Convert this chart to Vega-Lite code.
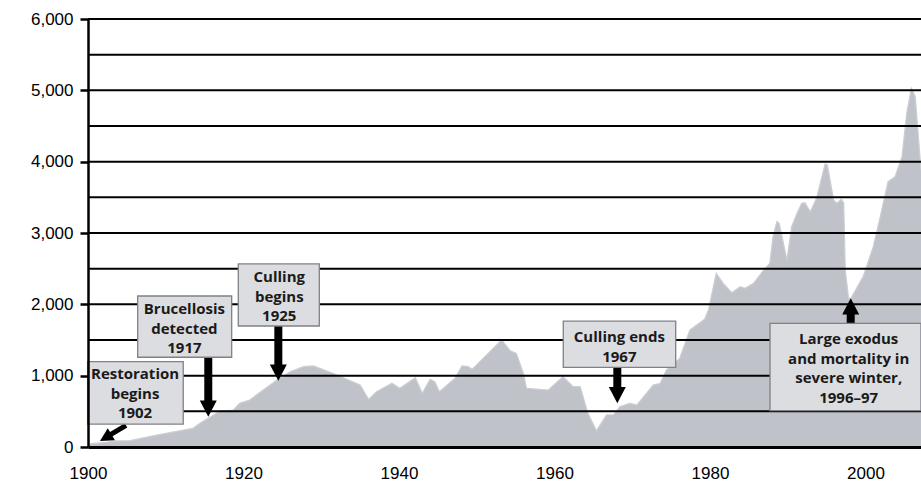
{
  "$schema": "https://vega.github.io/schema/vega-lite/v6.json",
  "width": 833,
  "height": 428,
  "autosize": {"type": "none"},
  "padding": {"left": 88, "top": 19, "right": 0, "bottom": 36},
  "background": "white",
  "config": {"view": {"stroke": null}},
  "datasets": {
    "pop": [
      {"year": 1900.0, "bison": 45}, {"year": 1902.0, "bison": 60}, {"year": 1903.5, "bison": 85},
      {"year": 1905.4, "bison": 89}, {"year": 1909.0, "bison": 170}, {"year": 1913.5, "bison": 262},
      {"year": 1914.4, "bison": 332}, {"year": 1917.0, "bison": 505}, {"year": 1918.7, "bison": 519},
      {"year": 1919.5, "bison": 612}, {"year": 1920.8, "bison": 659}, {"year": 1924.3, "bison": 939},
      {"year": 1926.0, "bison": 1056}, {"year": 1927.7, "bison": 1126}, {"year": 1929.0, "bison": 1136},
      {"year": 1929.8, "bison": 1103}, {"year": 1931.5, "bison": 1033}, {"year": 1935.0, "bison": 869},
      {"year": 1936.1, "bison": 668}, {"year": 1937.1, "bison": 776}, {"year": 1939.1, "bison": 893},
      {"year": 1940.1, "bison": 823}, {"year": 1942.1, "bison": 972}, {"year": 1943.0, "bison": 753},
      {"year": 1944.0, "bison": 949}, {"year": 1944.6, "bison": 916}, {"year": 1945.2, "bison": 776},
      {"year": 1947.2, "bison": 963}, {"year": 1948.1, "bison": 1136}, {"year": 1948.9, "bison": 1126},
      {"year": 1949.4, "bison": 1089}, {"year": 1953.2, "bison": 1500}, {"year": 1954.3, "bison": 1350},
      {"year": 1955.1, "bison": 1313}, {"year": 1956.0, "bison": 1033}, {"year": 1956.4, "bison": 823},
      {"year": 1959.2, "bison": 799}, {"year": 1961.1, "bison": 986}, {"year": 1962.4, "bison": 845},
      {"year": 1963.3, "bison": 845}, {"year": 1964.3, "bison": 472}, {"year": 1965.4, "bison": 229},
      {"year": 1966.7, "bison": 449}, {"year": 1967.6, "bison": 449}, {"year": 1968.4, "bison": 565},
      {"year": 1969.7, "bison": 612}, {"year": 1970.6, "bison": 589}, {"year": 1972.7, "bison": 869},
      {"year": 1973.6, "bison": 893}, {"year": 1974.4, "bison": 1080}, {"year": 1976.1, "bison": 1243},
      {"year": 1977.4, "bison": 1640}, {"year": 1979.3, "bison": 1790}, {"year": 1979.8, "bison": 1920},
      {"year": 1980.8, "bison": 2435}, {"year": 1981.7, "bison": 2295}, {"year": 1982.8, "bison": 2163},
      {"year": 1983.9, "bison": 2247}, {"year": 1984.5, "bison": 2224}, {"year": 1985.6, "bison": 2295},
      {"year": 1986.9, "bison": 2481}, {"year": 1987.7, "bison": 2575}, {"year": 1988.1, "bison": 2949},
      {"year": 1988.6, "bison": 3160}, {"year": 1988.9, "bison": 3136}, {"year": 1989.9, "bison": 2622},
      {"year": 1990.5, "bison": 3089}, {"year": 1991.2, "bison": 3276}, {"year": 1991.8, "bison": 3416},
      {"year": 1992.2, "bison": 3425}, {"year": 1992.9, "bison": 3299}, {"year": 1993.7, "bison": 3486},
      {"year": 1994.8, "bison": 3967}, {"year": 1995.1, "bison": 3953}, {"year": 1995.9, "bison": 3463},
      {"year": 1996.3, "bison": 3416}, {"year": 1996.9, "bison": 3472}, {"year": 1997.2, "bison": 3420},
      {"year": 1997.4, "bison": 2481}, {"year": 1997.8, "bison": 2107}, {"year": 1998.0, "bison": 2061},
      {"year": 1999.7, "bison": 2388}, {"year": 2001.0, "bison": 2808}, {"year": 2001.9, "bison": 3229},
      {"year": 2002.9, "bison": 3720}, {"year": 2003.8, "bison": 3790}, {"year": 2004.7, "bison": 4070},
      {"year": 2005.3, "bison": 4678}, {"year": 2005.9, "bison": 5029}, {"year": 2006.4, "bison": 4911},
      {"year": 2007.14, "bison": 3883}
    ],
    "grid": [
      {"v": 500}, {"v": 1000}, {"v": 1500}, {"v": 2000}, {"v": 2500}, {"v": 3000},
      {"v": 3500}, {"v": 4000}, {"v": 4500}, {"v": 5000}, {"v": 5500}, {"v": 6000}
    ],
    "boxes": [
      {"x1": 1899.95, "x2": 1912.25, "y1": 322, "y2": 1196, "tx": 1906.05, "ty": 1023, "label": "Restoration\nbegins\n1902"},
      {"x1": 1906.39, "x2": 1918.48, "y1": 1258, "y2": 2117, "tx": 1912.4, "ty": 1930, "label": "Brucellosis\ndetected\n1917"},
      {"x1": 1919.33, "x2": 1929.75, "y1": 1696, "y2": 2566, "tx": 1924.6, "ty": 2379, "label": "Culling\nbegins\n1925"},
      {"x1": 1961.13, "x2": 1975.59, "y1": 1117, "y2": 1766, "tx": 1968.34, "ty": 1538, "label": "Culling ends\n1967"},
      {"x1": 1987.72, "x2": 2007.14, "y1": 509, "y2": 1734, "tx": 1997.84, "ty": 1510, "label": "Large exodus\nand mortality in\nsevere winter,\n1996–97"}
    ],
    "arrows": [
      {"kind": "down", "xs": 1915.47, "ys": 1300, "xe": 1915.47, "ye": 617, "xt": 1915.47, "yt": 425},
      {"kind": "down", "xs": 1924.48, "ys": 1750, "xe": 1924.48, "ye": 1122, "xt": 1924.48, "yt": 929},
      {"kind": "down", "xs": 1968.08, "ys": 1150, "xe": 1968.08, "ye": 806, "xt": 1968.08, "yt": 613},
      {"kind": "up", "xs": 1998.1, "ys": 1700, "xe": 1998.1, "ye": 1893, "xt": 1998.1, "yt": 2085},
      {"kind": "diag", "xs": 1904.89, "ys": 303, "xe": 1902.89, "ye": 172, "xt": 1901.54, "yt": 84}
    ]
  },
  "layer": [
    {
      "data": {"name": "pop"},
      "mark": {"type": "area", "color": "#a5a8b2", "line": {"color": "#cbced3", "strokeWidth": 1.2}},
      "encoding": {
        "x": {"field": "year", "type": "quantitative",
          "scale": {"domain": [1900, 2007.14], "nice": false, "zero": false},
          "axis": {"title": null, "values": [1900, 1920, 1940, 1960, 1980, 2000],
            "labelExpr": "format(datum.value, 'd')",
            "ticks": false, "grid": false, "domainColor": "black", "domainWidth": 3,
            "labelFont": "Liberation Sans", "labelFontSize": 17, "labelColor": "black",
            "labelPadding": 18, "zindex": 1, "labelFlush": false}},
        "y": {"field": "bison", "type": "quantitative",
          "scale": {"domain": [0, 6000], "nice": false},
          "axis": {"title": null, "values": [0, 1000, 2000, 3000, 4000, 5000, 6000],
            "labelExpr": "format(datum.value, ',')",
            "grid": false, "domainColor": "black", "domainWidth": 2.5, "tickColor": "black",
            "tickSize": 8, "tickWidth": 2.5, "labelFont": "Liberation Sans", "labelFontSize": 17,
            "labelColor": "black", "labelPadding": 7, "zindex": 1}}
      }
    },
    {
      "data": {"name": "grid"},
      "mark": {"type": "rule", "color": "black", "strokeWidth": 2},
      "encoding": {
        "y": {"field": "v", "type": "quantitative", "scale": {"domain": [0, 6000], "nice": false}}
      }
    },
    {
      "data": {"name": "arrows"},
      "transform": [{"filter": "datum.kind !== 'diag'"}],
      "mark": {"type": "rule", "color": "black", "strokeWidth": 8},
      "encoding": {
        "x": {"field": "xs", "type": "quantitative", "scale": {"domain": [1900, 2007.14], "nice": false, "zero": false}},
        "x2": {"field": "xe"},
        "y": {"field": "ys", "type": "quantitative", "scale": {"domain": [0, 6000], "nice": false}},
        "y2": {"field": "ye"}
      }
    },
    {
      "data": {"name": "arrows"},
      "transform": [{"filter": "datum.kind === 'diag'"}],
      "mark": {"type": "rule", "color": "black", "strokeWidth": 5},
      "encoding": {
        "x": {"field": "xs", "type": "quantitative", "scale": {"domain": [1900, 2007.14], "nice": false, "zero": false}},
        "x2": {"field": "xe"},
        "y": {"field": "ys", "type": "quantitative", "scale": {"domain": [0, 6000], "nice": false}},
        "y2": {"field": "ye"}
      }
    },
    {
      "data": {"name": "arrows"},
      "transform": [{"filter": "datum.kind === 'down'"}],
      "mark": {"type": "point", "shape": "M-1,-1.9L1,-1.9L0,0Z", "size": 289, "filled": true, "color": "black", "opacity": 1, "strokeWidth": 0},
      "encoding": {
        "x": {"field": "xt", "type": "quantitative", "scale": {"domain": [1900, 2007.14], "nice": false, "zero": false}},
        "y": {"field": "yt", "type": "quantitative", "scale": {"domain": [0, 6000], "nice": false}}
      }
    },
    {
      "data": {"name": "arrows"},
      "transform": [{"filter": "datum.kind === 'up'"}],
      "mark": {"type": "point", "shape": "M-1,-1.9L1,-1.9L0,0Z", "size": 289, "angle": 180, "filled": true, "color": "black", "opacity": 1, "strokeWidth": 0},
      "encoding": {
        "x": {"field": "xt", "type": "quantitative", "scale": {"domain": [1900, 2007.14], "nice": false, "zero": false}},
        "y": {"field": "yt", "type": "quantitative", "scale": {"domain": [0, 6000], "nice": false}}
      }
    },
    {
      "data": {"name": "arrows"},
      "transform": [{"filter": "datum.kind === 'diag'"}],
      "mark": {"type": "point", "shape": "M-1,-1.9L1,-1.9L0,0Z", "size": 196, "angle": 59, "filled": true, "color": "black", "opacity": 1, "strokeWidth": 0},
      "encoding": {
        "x": {"field": "xt", "type": "quantitative", "scale": {"domain": [1900, 2007.14], "nice": false, "zero": false}},
        "y": {"field": "yt", "type": "quantitative", "scale": {"domain": [0, 6000], "nice": false}}
      }
    },
    {
      "data": {"name": "boxes"},
      "mark": {"type": "rect", "fill": "#dcdde1", "stroke": "#7f8189", "strokeWidth": 1.3},
      "encoding": {
        "x": {"field": "x1", "type": "quantitative", "scale": {"domain": [1900, 2007.14], "nice": false, "zero": false}},
        "x2": {"field": "x2"},
        "y": {"field": "y1", "type": "quantitative", "scale": {"domain": [0, 6000], "nice": false}},
        "y2": {"field": "y2"}
      }
    },
    {
      "data": {"name": "boxes"},
      "mark": {"type": "text", "font": "Open Sans", "fontWeight": "bold", "fontSize": 15, "lineHeight": 19.5,
        "lineBreak": "\n", "align": "center", "baseline": "middle", "color": "#1a1a1a"},
      "encoding": {
        "x": {"field": "tx", "type": "quantitative", "scale": {"domain": [1900, 2007.14], "nice": false, "zero": false}},
        "y": {"field": "ty", "type": "quantitative", "scale": {"domain": [0, 6000], "nice": false}},
        "text": {"field": "label", "type": "nominal"}
      }
    }
  ]
}
